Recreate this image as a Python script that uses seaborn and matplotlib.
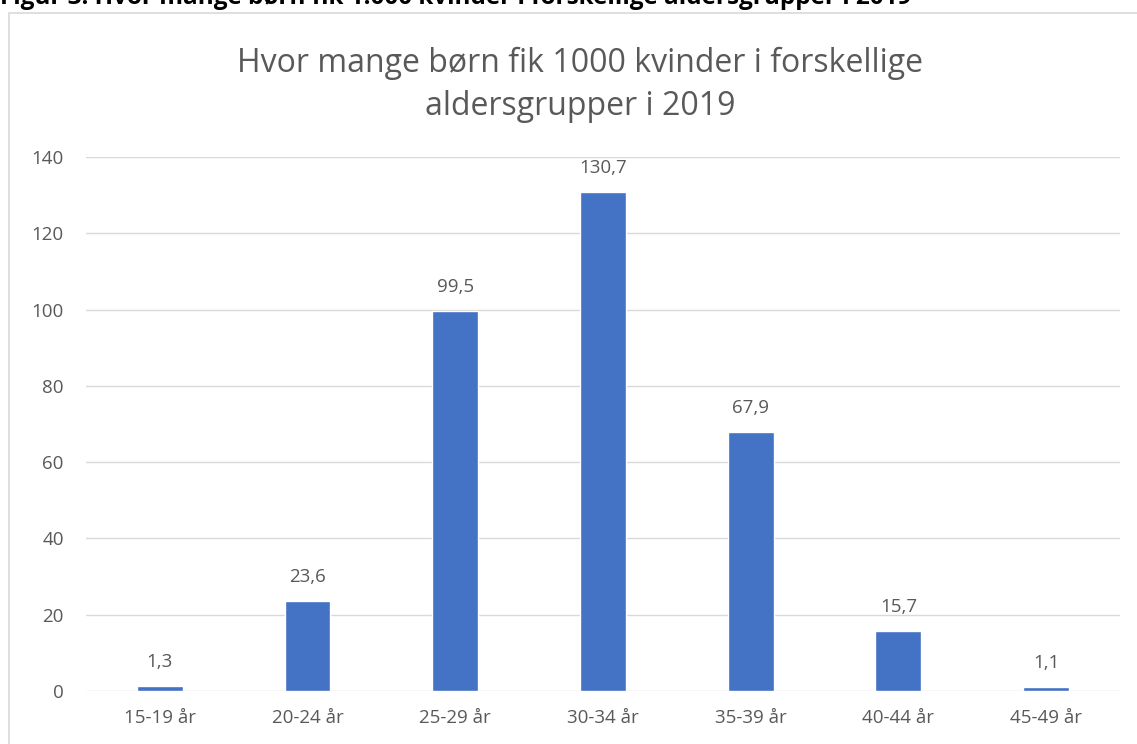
import matplotlib.pyplot as plt
import seaborn as sns
import pandas as pd
from matplotlib.patches import Rectangle

# Data
age_groups = ['15-19 år', '20-24 år', '25-29 år', '30-34 år', '35-39 år', '40-44 år', '45-49 år']
births_per_1000 = [1.3, 23.6, 99.5, 130.7, 67.9, 15.7, 1.1]
y_ticks = [0, 20, 40, 60, 80, 100, 120, 140]

df = pd.DataFrame({'Aldersgruppe': age_groups, 'Fødsler': births_per_1000})

sns.set_style('white')
plt.rcParams['font.family'] = ['Open Sans', 'DejaVu Sans']

text_color = '#595959'
bar_color = '#4472C4'

fig = plt.figure(figsize=(11.37, 7.44), dpi=100)
ax = fig.add_axes([0.0756, 0.0712, 0.9094, 0.7178])

sns.barplot(data=df, x='Aldersgruppe', y='Fødsler', color=bar_color,
            width=0.31, saturation=1, ax=ax)

# Data labels with danish decimal comma
labels = [f'{v:.1f}'.replace('.', ',') for v in births_per_1000]
ax.bar_label(ax.containers[0], labels=labels, padding=11, fontsize=13.5, color=text_color)

ax.set_ylim(0, 140)
ax.set_xlim(-0.5, len(age_groups) - 0.5)
ax.set_yticks(y_ticks)
ax.yaxis.grid(True, color='#D9D9D9', linewidth=1)
ax.set_axisbelow(True)
for s in ax.spines.values():
    s.set_visible(False)
ax.tick_params(axis='both', length=0, labelsize=13.5, labelcolor=text_color)
ax.tick_params(axis='y', pad=16)
ax.tick_params(axis='x', pad=13)
ax.set_xlabel('')
ax.set_ylabel('')

# Chart title
fig.text(0.51, 0.886, 'Hvor mange børn fik 1000 kvinder i forskellige\naldersgrupper i 2019',
         ha='center', va='center', fontsize=23, color=text_color, linespacing=1.38)

# Chart frame
fig.patches.append(Rectangle((9 / 1137, -0.01), 1.0, 1 - 13 / 744 + 0.01,
                             transform=fig.transFigure, fill=False,
                             edgecolor='#D9D9D9', linewidth=1.2))

# Cut-off document caption above the chart
fig.text(0.0, 1 - 4 / 744, 'Figur 3: Hvor mange børn fik 1.000 kvinder i forskellige aldersgrupper i 2019',
         ha='left', va='baseline', fontsize=17.5, fontweight='bold', color='black')

fig.savefig('out.png', dpi=100)
